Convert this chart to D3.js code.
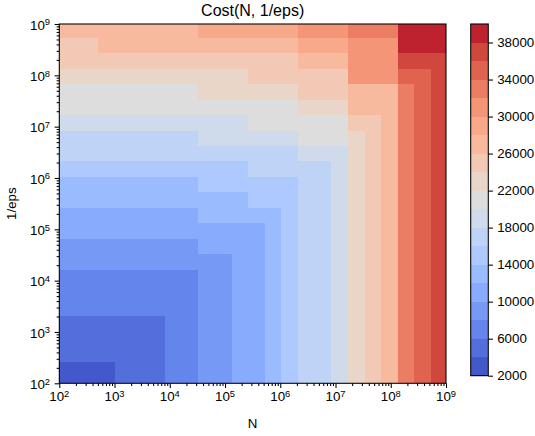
<!DOCTYPE html>
<html><head><meta charset="utf-8">
<script src="https://cdn.jsdelivr.net/npm/d3@7"></script>
<style>
body{margin:0;background:#fff}
svg{display:block}
text{font-family:"Liberation Sans",Arial,sans-serif;fill:#000}
</style>
</head><body>
<svg id="chart" width="535" height="436"></svg>
<script>
// ---------------- data ----------------
// bin edges of N (columns) and of 1/eps (rows): powers of two clipped to the axis range
const nEdges   = [1e2,128,256,512,1024,2048,4096,8192,16384,32768,65536,131072,262144,524288,1048576,2097152,4194304,8388608,16777216,33554432,67108864,134217728,268435456,536870912,1e9];
const epsEdges = [1e2,128,256,512,1024,2048,4096,8192,16384,32768,65536,131072,262144,524288,1048576,2097152,4194304,8388608,16777216,33554432,67108864,134217728,268435456,536870912,1e9];
// cost (in thousands) per cell; rows from smallest 1/eps (bottom) to largest (top), columns from smallest N
const costThousands = [
 [3,3,3,3,5,5,5,7,7,9,9,11,11,13,15, 17,17,19,23,25,27,33,35,37],
 [3,3,3,3,5,5,5,7,7,9,9,11,11,13,15, 17,17,19,23,25,27,33,35,37],
 [5,5,5,5,5,5,5,7,7,9,9,11,11,13,15, 17,17,19,23,25,27,33,35,37],
 [5,5,5,5,5,5,5,7,7,9,9,11,11,13,15, 17,17,19,23,25,27,33,35,37],
 [5,5,5,5,5,5,5,7,7,9,9,11,11,13,15, 17,17,19,23,25,27,33,35,37],
 [7,7,7,7,7,7,7,7,7,9,9,11,11,13,15, 17,17,19,23,25,27,33,35,37],
 [7,7,7,7,7,7,7,7,7,9,9,11,11,13,15, 17,17,19,23,25,27,33,35,37],
 [7,7,7,7,7,7,7,7,7,9,9,11,11,13,15, 17,17,19,23,25,27,33,35,37],
 [9,9,9,9,9,9,9,9,9,9,9,11,11,13,15, 17,17,19,23,25,27,33,35,37],
 [9,9,9,9,9,9,9,9,9,11,11,11,11,13,15, 17,17,19,23,25,27,33,35,37],
 [11,11,11,11,11,11,11,11,11,11,11,11,11,13,15, 17,17,19,23,25,27,33,35,37],
 [11,11,11,11,11,11,11,11,11,13,13,13,13,13,15, 17,17,19,23,25,27,33,35,37],
 [13,13,13,13,13,13,13,13,13,13,13,13,15,15,15, 17,17,19,23,25,27,33,35,37],
 [13,13,13,13,13,13,13,13,13,15,15,15,15,15,15, 17,17,19,23,25,27,33,35,37],
 [15,15,15,15,15,15,15,15,15,15,15,15,17,17,17, 17,17,19,23,25,27,33,35,37],
 [17,17,17,17,17,17,17,17,17,17,17,17,17,17,17, 19,19,19,23,25,27,33,35,37],
 [17,17,17,17,17,17,17,17,17,19,19,19,19,19,19, 21,21,21,23,25,27,33,35,37],
 [19,19,19,19,19,19,19,19,19,19,19,19,21,21,21, 21,21,21,25,25,27,33,35,37],
 [21,21,21,21,21,21,21,21,21,21,21,21,21,21,21, 23,23,23,27,27,27,33,35,37],
 [21,21,21,21,21,21,21,21,21,23,23,23,23,23,23, 25,25,25,27,27,27,33,35,37],
 [23,23,23,23,23,23,23,23,23,23,23,23,25,25,25, 25,25,25,31,31,31,35,35,37],
 [25,25,25,25,25,25,25,25,25,25,25,25,25,25,25, 27,27,27,31,31,31,37,37,37],
 [25,25,25,27,27,27,27,27,27,27,27,27,27,27,27, 29,29,29,31,31,31,39,39,39],
 [27,27,27,27,27,27,27,27,27,29,29,29,29,29,29, 31,31,31,33,33,33,39,39,39]
];
const levels  = [2000,4000,6000,8000,10000,12000,14000,16000,18000,20000,22000,24000,26000,28000,30000,32000,34000,36000,38000,40000];
const cbTicks = [2000,6000,10000,14000,18000,22000,26000,30000,34000,38000];
const axisTicks = [1e2,1e3,1e4,1e5,1e6,1e7,1e8,1e9];
const title = "Cost(N, 1/eps)", xLabel = "N", yLabel = "1/eps";

// ---------------- colormap (matplotlib coolwarm) ----------------
const coolwarm = [[59,76,192],[68,90,204],[77,104,215],[87,117,225],[98,130,234],[108,142,241],[119,154,247],[130,165,251],[141,176,254],[152,185,255],[163,194,255],[174,201,253],[184,208,249],[194,213,244],[204,217,238],[213,219,230],[221,221,221],[229,216,209],[236,211,197],[241,204,185],[245,196,173],[247,187,160],[247,177,148],[247,166,135],[244,154,123],[241,141,111],[236,127,99],[229,112,88],[222,96,77],[213,80,66],[203,62,56],[192,40,47],[180,4,38]];
const cmap = d3.scaleLinear()
  .domain(coolwarm.map((_, i) => i / (coolwarm.length - 1)))
  .range(coolwarm.map(c => d3.rgb(c[0], c[1], c[2]).toString()))
  .interpolate(d3.interpolateRgb).clamp(true);
const lo = levels[0], hi = levels[levels.length - 1];
const bandColors = d3.range(levels.length - 1).map(i => cmap(((levels[i] + levels[i + 1]) / 2 - lo) / (hi - lo)));
const band = d3.scaleThreshold().domain(levels.slice(1, -1)).range(bandColors);

// ---------------- layout ----------------
const svg = d3.select("#chart");
const P = {l: 59.3, r: 446, t: 24, b: 383.3};
const x = d3.scaleLog().domain([1e2, 1e9]).range([P.l, P.r]);
const y = d3.scaleLog().domain([1e2, 1e9]).range([P.b, P.t]);
const majLen = 4.67, minLen = 2.67, fs = 13.33;

// cells
const cells = [];
costThousands.forEach((row, r) => row.forEach((v, c) => cells.push({r, c, v: v * 1000})));
svg.append("g").attr("shape-rendering", "crispEdges")
  .selectAll("rect").data(cells).join("rect")
  .attr("x", d => x(nEdges[d.c]))
  .attr("width", d => x(nEdges[d.c + 1]) - x(nEdges[d.c]))
  .attr("y", d => y(epsEdges[d.r + 1]))
  .attr("height", d => y(epsEdges[d.r]) - y(epsEdges[d.r + 1]))
  .attr("fill", d => band(d.v));

// frame
svg.append("rect").attr("x", P.l).attr("y", P.t).attr("width", P.r - P.l).attr("height", P.b - P.t)
  .attr("fill", "none").attr("stroke", "#000").attr("stroke-width", 1.07);

// ticks
const isMajor = v => Math.abs(Math.log10(v) - Math.round(Math.log10(v))) < 1e-9;
const minor = x.ticks().filter(v => !isMajor(v));
const styleAxis = g => { g.select(".domain").remove(); g.selectAll("line").attr("stroke", "#000").attr("stroke-width", 1.07); g.selectAll("text").remove(); };
svg.append("g").attr("transform", `translate(0,${P.b})`).call(d3.axisBottom(x).tickValues(minor).tickSize(minLen)).call(styleAxis);
svg.append("g").attr("transform", `translate(0,${P.b})`).call(d3.axisBottom(x).tickValues(axisTicks).tickSize(majLen)).call(styleAxis);
svg.append("g").attr("transform", `translate(${P.l},0)`).call(d3.axisLeft(y).tickValues(minor).tickSize(minLen)).call(styleAxis);
svg.append("g").attr("transform", `translate(${P.l},0)`).call(d3.axisLeft(y).tickValues(axisTicks).tickSize(majLen)).call(styleAxis);

function pow10Label(sel) {
  sel.append("tspan").text("10");
  sel.append("tspan").attr("font-size", fs * 0.7).attr("dy", -4.2).text(d => Math.round(Math.log10(d)));
}
svg.append("g").selectAll("text").data(axisTicks).join("text")
  .attr("x", d => x(d)).attr("y", 400.7).attr("text-anchor", "middle").attr("font-size", fs)
  .call(pow10Label);
svg.append("g").selectAll("text").data(axisTicks).join("text")
  .attr("x", P.l - 9.3).attr("y", d => y(d) + 5.6).attr("text-anchor", "end").attr("font-size", fs)
  .call(pow10Label);

// axis labels and title
svg.append("text").attr("x", (P.l + P.r) / 2).attr("y", 428).attr("text-anchor", "middle").attr("font-size", fs).text(xLabel);
svg.append("text").attr("transform", `translate(16,${(P.t + P.b) / 2}) rotate(-90)`).attr("text-anchor", "middle").attr("font-size", fs).text(yLabel);
svg.append("text").attr("x", (P.l + P.r) / 2).attr("y", 16).attr("text-anchor", "middle").attr("font-size", 16).text(title);

// colorbar
const CB = {l: 470.7, r: 488.3, t: 24, b: 375.7};
const cy = d3.scaleLinear().domain([lo, hi]).range([CB.b, CB.t]);
svg.append("g").attr("shape-rendering", "crispEdges")
  .selectAll("rect").data(d3.range(levels.length - 1)).join("rect")
  .attr("x", CB.l).attr("width", CB.r - CB.l)
  .attr("y", i => cy(levels[i + 1])).attr("height", i => cy(levels[i]) - cy(levels[i + 1]))
  .attr("fill", i => bandColors[i]);
svg.append("rect").attr("x", CB.l).attr("y", CB.t).attr("width", CB.r - CB.l).attr("height", CB.b - CB.t)
  .attr("fill", "none").attr("stroke", "#000").attr("stroke-width", 1.07);
const cbAxis = svg.append("g").attr("transform", `translate(${CB.r},0)`)
  .call(d3.axisRight(cy).tickValues(cbTicks).tickSize(majLen).tickPadding(4.2).tickFormat(d3.format("d")));
cbAxis.select(".domain").remove();
cbAxis.selectAll("line").attr("stroke", "#000").attr("stroke-width", 1.07);
cbAxis.selectAll("text").attr("font-size", fs).attr("font-family", '"Liberation Sans",Arial,sans-serif').attr("fill", "#000");
</script>
</body></html>
